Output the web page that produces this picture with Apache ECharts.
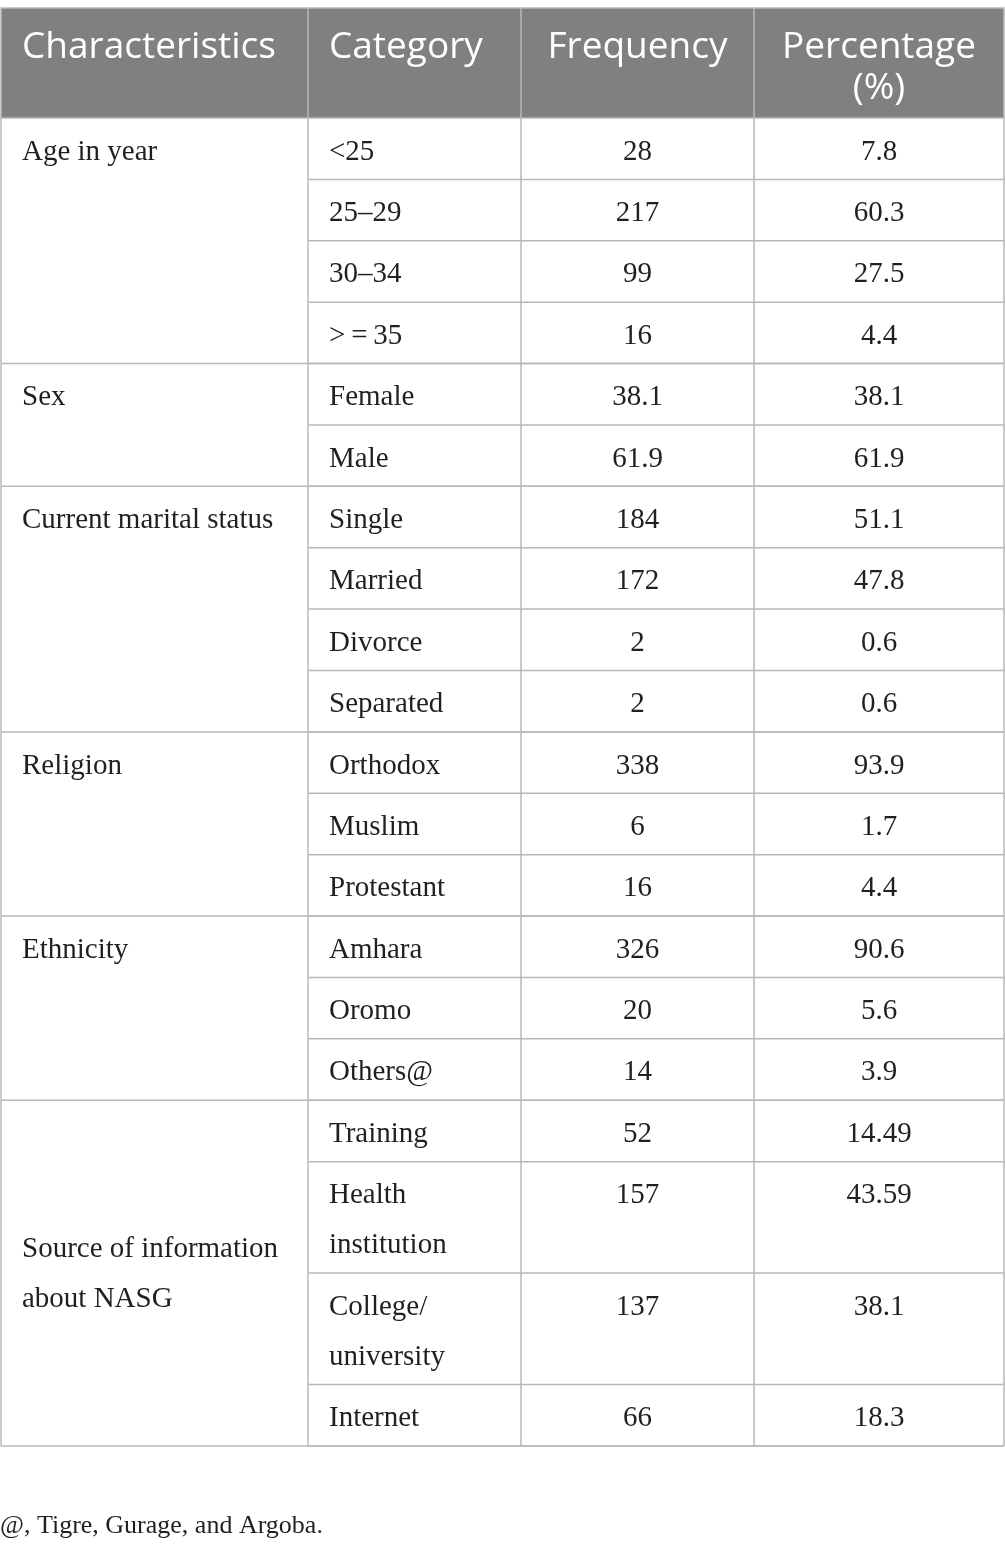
<!DOCTYPE html>
<html>
<head>
<meta charset="utf-8">
<script src="https://cdn.jsdelivr.net/npm/echarts@6/dist/echarts.min.js"></script>
<style>
  html, body { margin: 0; padding: 0; background: #fff; }
  #chart { width: 1005px; height: 1552px; }
</style>
</head>
<body>
<div id="chart"></div>
<script>
// ===== 表格数据 =====
const headers = ["Characteristics", "Category", "Frequency", "Percentage\n(%)"];
const characteristics = ["Age in year", "Sex", "Current marital status", "Religion", "Ethnicity", "Source of information\nabout NASG"];
const groupSizes = [4, 2, 4, 3, 3, 4];
const categories = ["<25", "25–29", "30–34", ">\u2009=\u200935", "Female", "Male",
  "Single", "Married", "Divorce", "Separated", "Orthodox", "Muslim", "Protestant",
  "Amhara", "Oromo", "Others@", "Training", "Health\ninstitution", "College/\nuniversity", "Internet"];
const frequency = ["28", "217", "99", "16", "38.1", "61.9", "184", "172", "2", "2",
  "338", "6", "16", "326", "20", "14", "52", "157", "137", "66"];
const percentage = ["7.8", "60.3", "27.5", "4.4", "38.1", "61.9", "51.1", "47.8", "0.6", "0.6",
  "93.9", "1.7", "4.4", "90.6", "5.6", "3.9", "14.49", "43.59", "38.1", "18.3"];
const footnote = "@, Tigre, Gurage, and Argoba.";

// ===== 版式 (轴单位 = 像素) =====
const W = 1003;
const colEdges = [0, 307, 520, 753, W];
const HEADER_H = 110, ROW_H = 61.4, LINE_H = 50.1;
const SERIF = "29px 'Liberation Serif', 'DejaVu Serif', serif";
const SANS = "37px 'Open Sans', 'Noto Sans', sans-serif";
const TXT = "#231f20", LINE = "#b8b8b8", HEAD_BG = "#7f8080";

const nLines = s => s.split("\n").length;
const rowTop = [HEADER_H];
categories.forEach((c, i) => rowTop.push(rowTop[i] + ROW_H + (nLines(c) - 1) * LINE_H));
const H = rowTop[rowTop.length - 1];
const groupStart = [0];
groupSizes.forEach((n, i) => groupStart.push(groupStart[i] + n));

function line(api, x1, y1, x2, y2) {
  const a = api.coord([x1, y1]), b = api.coord([x2, y2]);
  return { type: "line", shape: { x1: a[0], y1: a[1], x2: b[0], y2: b[1] },
           style: { stroke: LINE, lineWidth: 1.5 } };
}
function text(api, s, col, y, font, fill) {
  const left = col < 2;
  const x = left ? colEdges[col] + 21 : (colEdges[col] + colEdges[col + 1]) / 2;
  const p = api.coord([x, y]);
  return { type: "text", style: { text: s, x: p[0], y: p[1], font: font, fill: fill,
           align: left ? "left" : "center", verticalAlign: "top", lineHeight: font === SANS ? 41 : 50 } };
}

const chart = echarts.init(document.getElementById("chart"));
chart.setOption({
  animation: false,
  title: { text: footnote, left: 0, top: 1513, padding: 0,
           textStyle: { fontFamily: "'Liberation Serif', serif", fontSize: 26, fontWeight: "normal", color: TXT } },
  grid: { left: 1, top: 8, width: W, height: 1438 },
  xAxis: { type: "value", min: 0, max: W, show: false },
  yAxis: { type: "value", min: 0, max: H, inverse: true, show: false },
  series: [
    { // 表头
      type: "custom", clip: false, data: [[0, 0]],
      renderItem(params, api) {
        const a = api.coord([0, 0]), b = api.coord([W, HEADER_H]);
        const kids = [{ type: "rect", shape: { x: a[0], y: a[1], width: b[0] - a[0], height: b[1] - a[1] },
                        style: { fill: HEAD_BG, stroke: LINE, lineWidth: 1.5 } }];
        colEdges.slice(1, -1).forEach(x => kids.push(line(api, x, 0, x, HEADER_H)));
        headers.forEach((h, c) => kids.push(text(api, h, c, 19, SANS, "#fff")));
        return { type: "group", children: kids };
      }
    },
    { // 类别行
      type: "custom", clip: false, data: categories.map((_, i) => [i, i]),
      renderItem(params, api) {
        const i = api.value(0), top = rowTop[i];
        return { type: "group", children: [
          line(api, colEdges[1], rowTop[i + 1], W, rowTop[i + 1]),
          text(api, categories[i], 1, top + 9, SERIF, TXT),
          text(api, frequency[i], 2, top + 9, SERIF, TXT),
          text(api, percentage[i], 3, top + 9, SERIF, TXT),
        ] };
      }
    },
    { // 特征分组
      type: "custom", clip: false, data: characteristics.map((_, g) => [g, g]),
      renderItem(params, api) {
        const g = api.value(0);
        const top = rowTop[groupStart[g]], bot = rowTop[groupStart[g + 1]];
        const lbl = characteristics[g];
        const y = nLines(lbl) > 1 ? (top + bot) / 2 - nLines(lbl) * 25 + 1 : top + 9;
        const kids = [line(api, 0, bot, W, bot), text(api, lbl, 0, y, SERIF, TXT)];
        colEdges.forEach(x => kids.push(line(api, x, top, x, bot)));
        return { type: "group", children: kids };
      }
    }
  ]
});
</script>
</body>
</html>
